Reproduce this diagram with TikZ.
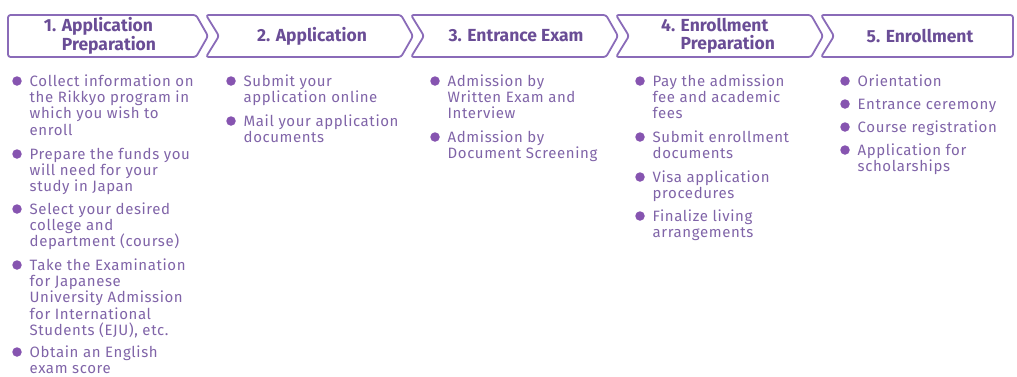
\documentclass[tikz,border=0pt]{standalone}
\usepackage{fontspec}
\setmainfont{Fira Sans}
\newfontfamily\bodyfont[LetterSpace=4]{Fira Sans}
\usetikzlibrary{calc}
\definecolor{boxline}{HTML}{8A6BB8}
\definecolor{headtext}{HTML}{6A4D96}
\definecolor{bodytext}{HTML}{8064A8}
\definecolor{dotcol}{HTML}{8654B0}
\tikzset{
  chev/.style={draw=boxline, line width=1.8pt, rounded corners=2.5pt, line join=round},
  head/.style={text=headtext, font=\fontsize{17.5}{18}\selectfont\bfseries, inner sep=0pt, align=left},
  itemtext/.style={text=bodytext, font=\bodyfont\fontsize{15}{16.3}\selectfont, inner sep=0pt, align=left, anchor=north west},
  bdot/.style={circle, fill=dotcol, inner sep=0pt, minimum size=9.5pt},
}
\newcommand\bitem[4]{%
  \node[bdot] (#1d) at (#2,#3) {};
  \node[itemtext] (#1) at ($(#2,#3)+(12.5,-7)$) {\rule{0pt}{12pt}#4};}
\begin{document}
\begin{tikzpicture}[x=1pt,y=-1pt]
\useasboundingbox (0,0) rectangle (1017,376);
% chevrons
\draw[chev] (8,15) -- (196,15) -- (208,36) -- (196,57) -- (8,57) -- cycle;
\draw[chev] (206,15) -- (401,15) -- (413,36) -- (401,57) -- (206,57) -- (219,36) -- cycle;
\draw[chev] (411,15) -- (606,15) -- (618,36) -- (606,57) -- (411,57) -- (424,36) -- cycle;
\draw[chev] (616,15) -- (811,15) -- (823,36) -- (811,57) -- (616,57) -- (629,36) -- cycle;
\draw[chev] (821,15) -- (1013,15) -- (1013,57) -- (821,57) -- (834,36) -- cycle;
% headers
\node[head] (h1) at (100,36) {1. Application\\\hphantom{1. }Preparation};
\node[head] (h2) at (312,36) {2. Application};
\node[head] (h3) at (516,36) {3. Entrance Exam};
\node[head] (h4) at (718,36) {4. Enrollment\\\hphantom{4. }Preparation};
\node[head] (h5) at (920,36) {5. Enrollment};
% column 1
\bitem{a1}{17}{81}{Collect information on\\the Rikkyo program in\\which you wish to\\enroll}
\bitem{a2}{17}{154}{Prepare the funds you\\will need for your\\study in Japan}
\bitem{a3}{17}{209}{Select your desired\\college and\\department (course)}
\bitem{a4}{17}{265}{Take the Examination\\for Japanese\\University Admission\\for International\\Students (EJU), etc.}
\bitem{a5}{17}{352}{Obtain an English\\exam score}
% column 2
\bitem{b1}{231}{81}{Submit your\\application online}
\bitem{b2}{231}{121}{Mail your application\\documents}
% column 3
\bitem{c1}{435}{81}{Admission by\\Written Exam and\\Interview}
\bitem{c2}{435}{137}{Admission by\\Document Screening}
% column 4
\bitem{d1}{640}{81}{Pay the admission\\fee and academic\\fees}
\bitem{d2}{640}{137}{Submit enrollment\\documents}
\bitem{d3}{640}{177}{Visa application\\procedures}
\bitem{d4}{640}{216}{Finalize living\\arrangements}
% column 5
\bitem{e1}{845}{81}{Orientation}
\bitem{e2}{845}{104}{Entrance ceremony}
\bitem{e3}{845}{127}{Course registration}
\bitem{e4}{845}{150}{Application for\\scholarships}
\end{tikzpicture}
\end{document}
